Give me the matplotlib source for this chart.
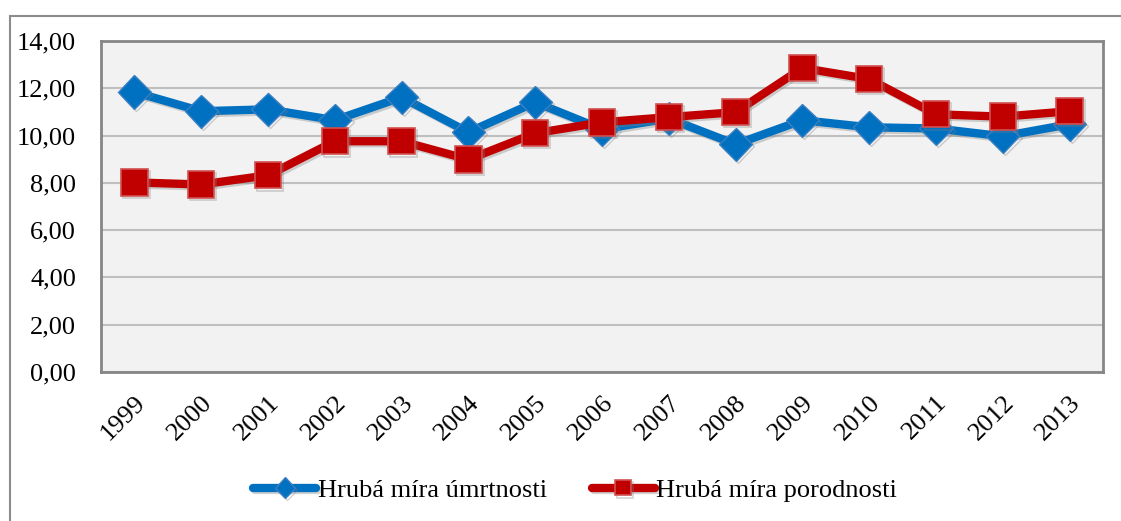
import numpy as np
import matplotlib.pyplot as plt
from matplotlib.patches import Rectangle
import matplotlib.patheffects as pe

plt.rcParams['font.family'] = ['Liberation Serif', 'DejaVu Serif']

roky = ['1999', '2000', '2001', '2002', '2003', '2004', '2005', '2006',
        '2007', '2008', '2009', '2010', '2011', '2012', '2013']
umrtnost = [11.84, 11.03, 11.11, 10.65, 11.62, 10.14, 11.41, 10.27,
            10.72, 9.63, 10.65, 10.35, 10.30, 9.97, 10.48]
porodnost = [8.02, 7.93, 8.32, 9.76, 9.76, 8.99, 10.10, 10.56,
             10.78, 10.99, 12.86, 12.39, 10.90, 10.80, 11.03]

fig = plt.figure(figsize=(11.21, 5.21), dpi=100)
ax = fig.add_axes([101/1121, 1 - 372/521, (1103 - 101)/1121, (372 - 41)/521])
ax.set_facecolor('#F2F2F2')

# outer chart frame (right and bottom run off the image)
fig.patches.append(Rectangle((10/1121, -0.1), 1.2, 1 - 16/521 + 0.1,
                             transform=fig.transFigure, fill=False,
                             edgecolor='#8C8C8C', linewidth=1.5, zorder=0))

x = np.arange(len(roky))
shadow = [pe.SimpleLineShadow(offset=(1.5, -1.5), shadow_color='#808080', alpha=0.35), pe.Normal()]
ax.plot(x, umrtnost, color='#0070C0', linewidth=6, marker='D', markersize=17,
        markerfacecolor='#0070C0', markeredgecolor='#3A7FC4', markeredgewidth=1,
        label='Hrubá míra úmrtnosti', zorder=3, path_effects=shadow,
        solid_capstyle='round')
ax.plot(x, porodnost, color='#C00000', linewidth=6, marker='s', markersize=19,
        markerfacecolor='#C00000', markeredgecolor='#D05050', markeredgewidth=1.2,
        label='Hrubá míra porodnosti', zorder=4, path_effects=shadow,
        solid_capstyle='round')

ax.set_xlim(-0.5, len(roky) - 0.5)
ax.set_ylim(0, 14)
ax.set_yticks(np.arange(0, 15, 2))
ax.set_yticklabels([f'{v:.2f}'.replace('.', ',') for v in np.arange(0, 15, 2)], fontsize=19)
ax.set_xticks(x)
ax.set_xticklabels(roky, rotation=45, ha='right', rotation_mode='anchor', fontsize=19)
ax.tick_params(length=0)
ax.tick_params(axis='y', pad=18)
ax.tick_params(axis='x', pad=14)
ax.grid(axis='y', color='#BFBFBF', linewidth=1.5)
ax.set_axisbelow(True)
for s in ax.spines.values():
    s.set_color('#868686')
    s.set_linewidth(2)

ax.legend(loc='center', bbox_to_anchor=(575/1121, 1 - 490/521), bbox_transform=fig.transFigure,
          ncol=2, frameon=False, fontsize=19, handlelength=2.4, handletextpad=0.05,
          columnspacing=1.7, markerscale=0.6)

fig.savefig('out.png', dpi=100)
